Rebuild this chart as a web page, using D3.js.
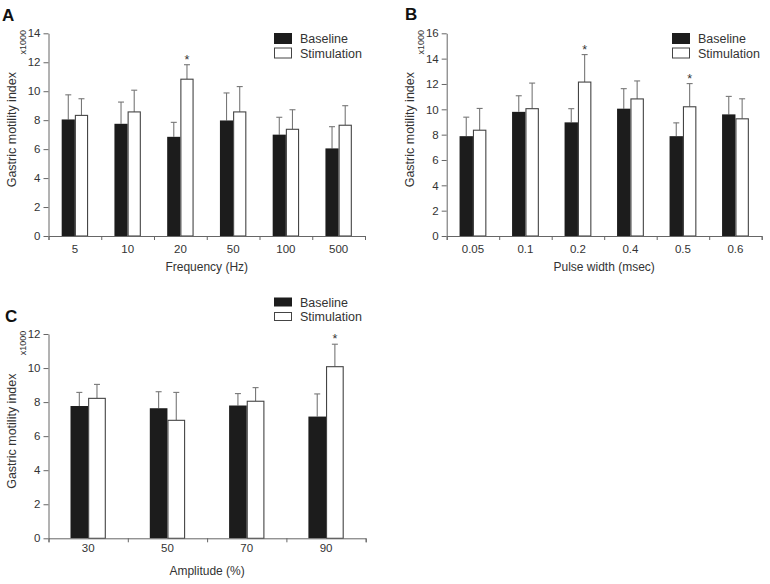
<!DOCTYPE html>
<html>
<head>
<meta charset="utf-8">
<script src="https://cdn.jsdelivr.net/npm/d3@7"></script>
<style>
  body { margin: 0; background: #fff; }
  svg { display: block; font-family: "Liberation Sans", Arial, sans-serif; }
  .axis path, .axis line { stroke: #666; }
  .axis text { fill: #333; font-size: 11.5px; }
</style>
</head>
<body>
<div id="chart"></div>
<script>
// ##### data (x1000) #####
var seriesNames = ["Baseline", "Stimulation"];

var freqLabels   = ["5", "10", "20", "50", "100", "500"];
var freqBase     = [8.05, 7.75, 6.85, 7.98, 7.0, 6.05];
var freqBaseSD   = [1.7, 1.5, 1.0, 1.9, 1.2, 1.5];
var freqStim     = [8.33, 8.57, 10.83, 8.57, 7.37, 7.65];
var freqStimSD   = [1.15, 1.5, 1.0, 1.75, 1.35, 1.35];
var freqSig      = ["20"];

var pulseLabels  = ["0.05", "0.1", "0.2", "0.4", "0.5", "0.6"];
var pulseBase    = [7.88, 9.8, 8.97, 10.05, 7.88, 9.6];
var pulseBaseSD  = [1.5, 1.27, 1.08, 1.58, 1.05, 1.42];
var pulseStim    = [8.35, 10.05, 12.15, 10.82, 10.2, 9.25];
var pulseStimSD  = [1.72, 2.02, 2.17, 1.42, 1.83, 1.58];
var pulseSig     = ["0.2", "0.5"];

var ampLabels    = ["30", "50", "70", "90"];
var ampBase      = [7.77, 7.64, 7.8, 7.15];
var ampBaseSD    = [0.8, 0.97, 0.7, 1.33];
var ampStim      = [8.22, 6.93, 8.05, 10.08];
var ampStimSD    = [0.82, 1.64, 0.8, 1.32];
var ampSig       = ["90"];

var svg = d3.select("#chart").append("svg")
	.attr("width", 770)
	.attr("height", 584);

function drawPanel(p) {
	var g = svg.append("g");

	var x = d3.scaleBand().domain(p.labels).range([p.x0, p.x1]);
	var pad = 1 / p.fill - 1;
	var xs = d3.scaleBand().domain(seriesNames).range([0, x.bandwidth()]).paddingOuter(pad);
	var y = d3.scaleLinear().domain([0, p.ymax]).range([p.y0, p.y1]);

	var rows = p.labels.map(function(l, i) {
		return [
			{cat: l, s: "Baseline", v: p.base[i], sd: p.baseSD[i]},
			{cat: l, s: "Stimulation", v: p.stim[i], sd: p.stimSD[i]}
		];
	});
	var flat = [].concat.apply([], rows);

	// error bars (upper only)
	var eb = g.selectAll(".eb").data(flat).enter().append("g").attr("class", "eb");
	eb.append("line")
		.attr("x1", function(d) { return x(d.cat) + xs(d.s) + xs.bandwidth() / 2; })
		.attr("x2", function(d) { return x(d.cat) + xs(d.s) + xs.bandwidth() / 2; })
		.attr("y1", function(d) { return y(d.v); })
		.attr("y2", function(d) { return y(d.v + d.sd); })
		.attr("stroke", "#777").attr("stroke-width", 1.1);
	eb.append("line")
		.attr("x1", function(d) { return x(d.cat) + xs(d.s) + xs.bandwidth() / 2 - 3; })
		.attr("x2", function(d) { return x(d.cat) + xs(d.s) + xs.bandwidth() / 2 + 3; })
		.attr("y1", function(d) { return y(d.v + d.sd); })
		.attr("y2", function(d) { return y(d.v + d.sd); })
		.attr("stroke", "#777").attr("stroke-width", 1.1);

	// bars
	g.selectAll(".bar").data(flat).enter().append("rect")
		.attr("x", function(d) { return x(d.cat) + xs(d.s) + (d.s == "Baseline" ? 0 : 0.5); })
		.attr("y", function(d) { return y(d.v); })
		.attr("width", function(d) { return xs.bandwidth() - (d.s == "Baseline" ? 0 : 1); })
		.attr("height", function(d) { return y(0) - y(d.v); })
		.attr("fill", function(d) { return d.s == "Baseline" ? "#1c1c1c" : "#fff"; })
		.attr("stroke", function(d) { return d.s == "Baseline" ? "none" : "#444"; })
		.attr("stroke-width", 1.1);

	// significance stars
	g.selectAll(".star").data(flat.filter(function(d) { return d.s == "Stimulation" && p.sig.indexOf(d.cat) >= 0; }))
		.enter().append("text")
		.attr("x", function(d) { return x(d.cat) + xs(d.s) + xs.bandwidth() / 2; })
		.attr("y", function(d) { return y(d.v + d.sd) - 1; })
		.attr("text-anchor", "middle")
		.attr("fill", "#333")
		.style("font-size", "12.5px")
		.text("*");

	// y axis
	g.append("g").attr("class", "axis")
		.attr("transform", "translate(" + p.x0 + ",0)")
		.call(d3.axisLeft(y).tickValues(d3.range(0, p.ymax + 1, 2)).tickSize(5).tickSizeOuter(0).tickPadding(3));

	// x axis: boundary ticks + centred labels
	var xb = d3.scaleLinear().domain([0, p.labels.length]).range([p.x0, p.x1]);
	g.append("g").attr("class", "axis")
		.attr("transform", "translate(0," + p.y0 + ")")
		.call(d3.axisBottom(xb).ticks(p.labels.length).tickFormat("").tickSize(4).tickSizeOuter(4));
	var xl = g.append("g").attr("class", "axis")
		.attr("transform", "translate(0," + p.y0 + ")")
		.call(d3.axisBottom(x).tickSize(0).tickPadding(p.tickPad));
	xl.select(".domain").remove();

	// titles
	g.append("text")
		.attr("x", (p.x0 + p.x1) / 2)
		.attr("y", p.y0 + p.titleOff)
		.attr("text-anchor", "middle")
		.attr("fill", "#333")
		.style("font-size", "12px")
		.text(p.xTitle);
	g.append("text")
		.attr("transform", "translate(" + (p.x0 - 32.5) + "," + ((p.y0 + p.y1) / 2 - 5) + ") rotate(-90)")
		.attr("text-anchor", "middle")
		.attr("fill", "#333")
		.style("font-size", "12.5px")
		.text("Gastric motility index");
	g.append("text")
		.attr("transform", "translate(" + (p.x0 - 23) + "," + (p.y1 + 9) + ") rotate(-90)")
		.attr("text-anchor", "middle")
		.attr("fill", "#333")
		.style("font-size", "9px")
		.text("x1000");
	g.append("text")
		.attr("x", p.letterX).attr("y", p.letterY)
		.attr("fill", "#111")
		.style("font-size", "17px").style("font-weight", "bold")
		.text(p.letter);

	// legend
	var lg = g.selectAll(".lg").data(seriesNames).enter().append("g")
		.attr("transform", function(d, i) { return "translate(" + p.legX + "," + (p.legY + i * 14.5) + ")"; });
	lg.append("rect")
		.attr("x", 0.5).attr("y", -p.legH / 2)
		.attr("width", 17).attr("height", p.legH)
		.attr("fill", function(d) { return d == "Baseline" ? "#1c1c1c" : "#fff"; })
		.attr("stroke", function(d) { return d == "Baseline" ? "#1c1c1c" : "#444"; });
	lg.append("text")
		.attr("x", 26).attr("dy", "0.36em")
		.attr("fill", "#333")
		.style("font-size", "12.5px")
		.text(function(d) { return d; });
}

drawPanel({letter: "A", letterX: 2, letterY: 21, labels: freqLabels, base: freqBase, baseSD: freqBaseSD,
	stim: freqStim, stimSD: freqStimSD, sig: freqSig, ymax: 14, x0: 48.5, x1: 365, y0: 236, y1: 33.3,
	fill: 0.5, xTitle: "Frequency (Hz)", tickPad: 9, titleOff: 35, legX: 274, legY: 38.5, legH: 10});

drawPanel({letter: "B", letterX: 405, letterY: 20, labels: pulseLabels, base: pulseBase, baseSD: pulseBaseSD,
	stim: pulseStim, stimSD: pulseStimSD, sig: pulseSig, ymax: 16, x0: 446.7, x1: 761.7, y0: 236, y1: 33.3,
	fill: 0.51, xTitle: "Pulse width (msec)", tickPad: 9, titleOff: 35, legX: 672, legY: 38.5, legH: 10});

drawPanel({letter: "C", letterX: 5, letterY: 322, labels: ampLabels, base: ampBase, baseSD: ampBaseSD,
	stim: ampStim, stimSD: ampStimSD, sig: ampSig, ymax: 12, x0: 48.5, x1: 365.7, y0: 538.3, y1: 334,
	fill: 0.445, xTitle: "Amplitude (%)", tickPad: 6, titleOff: 37, legX: 274, legY: 302, legH: 8});
</script>
</body>
</html>
